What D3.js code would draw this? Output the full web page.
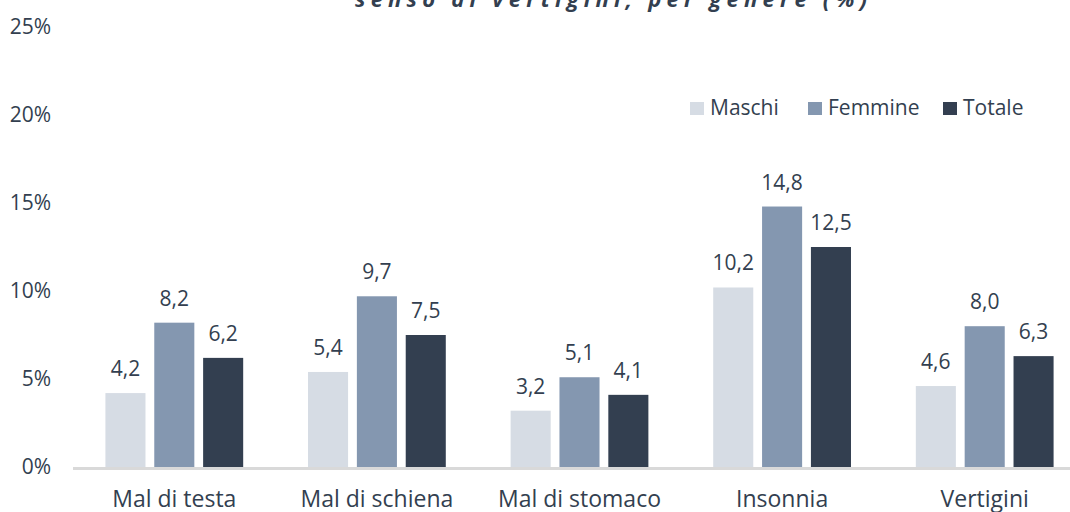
<!DOCTYPE html>
<html><head><meta charset="utf-8">
<script src="https://cdn.jsdelivr.net/npm/d3@7"></script>
<style>body{margin:0;background:#fff;} svg{display:block;font-family:"Open Sans",sans-serif;}</style>
</head><body><svg id="c" width="1070" height="512"></svg>
<script>
const categories = ["Mal di testa","Mal di schiena","Mal di stomaco","Insonnia","Vertigini"];
const seriesNames = ["Maschi","Femmine","Totale"];
const maschi = [4.2, 5.4, 3.2, 10.2, 4.6];
const femmine = [8.2, 9.7, 5.1, 14.8, 8.0];
const totale = [6.2, 7.5, 4.1, 12.5, 6.3];
const yTicks = [0, 5, 10, 15, 20, 25];
const titleText = "senso di vertigini, per genere (%)";

const colors = ["#d6dce4", "#8497b0", "#333f50"];
const textColor = "#333f50";
const series = [maschi, femmine, totale];

const svg = d3.select("#c");
const x0 = d3.scaleBand().domain(categories).range([73, 1086]).paddingInner(0.32).paddingOuter(0.16);
const x1 = d3.scaleBand().domain(seriesNames).range([0, x0.bandwidth()]).paddingInner(0.18);
const y = d3.scaleLinear().domain([0, 25]).range([467, 27]);

// title (second line, partly cut at top)
svg.append("text").attr("x", 355).attr("y", 7).attr("text-anchor", "start")
  .attr("fill", textColor).attr("font-size", 22).attr("font-weight", "bold").attr("font-style", "italic")
  .attr("textLength", 512).attr("lengthAdjust", "spacing").text(titleText);

// y axis labels
const yAxis = d3.axisLeft(y).tickValues(yTicks).tickFormat(d => d + "%").tickSize(0).tickPadding(0);
const ga = svg.append("g").attr("transform", "translate(51,0)").call(yAxis);
ga.select(".domain").remove();
ga.selectAll("text").attr("fill", textColor).attr("font-size", 21).attr("font-family", "Open Sans, sans-serif");

// bars
categories.forEach((c, i) => {
  const g = svg.append("g").attr("transform", `translate(${x0(c)},0)`);
  seriesNames.forEach((s, j) => {
    const v = series[j][i];
    g.append("rect").attr("x", x1(s)).attr("y", y(v)).attr("width", x1.bandwidth()).attr("height", y(0) - y(v)).attr("fill", colors[j]);
    g.append("text").attr("x", x1(s) + x1.bandwidth() / 2).attr("y", y(v) - 17).attr("text-anchor", "middle")
      .attr("fill", textColor).attr("font-size", 21).text(v.toFixed(1).replace(".", ","));
  });
});

// x axis
const xAxis = d3.axisBottom(x0).tickSize(0).tickPadding(0);
const gx = svg.append("g").attr("transform", `translate(0,${y(0)})`).call(xAxis);
gx.select(".domain").remove();
gx.selectAll("text").attr("fill", textColor).attr("font-size", 23).attr("font-family", "Open Sans, sans-serif").attr("dy", null).attr("y", 40);
svg.append("line").attr("x1", 73).attr("x2", 1070).attr("y1", y(0) + 1.5).attr("y2", y(0) + 1.5).attr("stroke", "#d9d9d9").attr("stroke-width", 3);

// legend
const legX = [690, 808, 943];
seriesNames.forEach((s, j) => {
  svg.append("rect").attr("x", legX[j]).attr("y", 102).attr("width", 14).attr("height", 13).attr("fill", colors[j]);
  svg.append("text").attr("x", legX[j] + 20).attr("y", 115).attr("fill", textColor).attr("font-size", 21).text(s);
});
</script></body></html>
